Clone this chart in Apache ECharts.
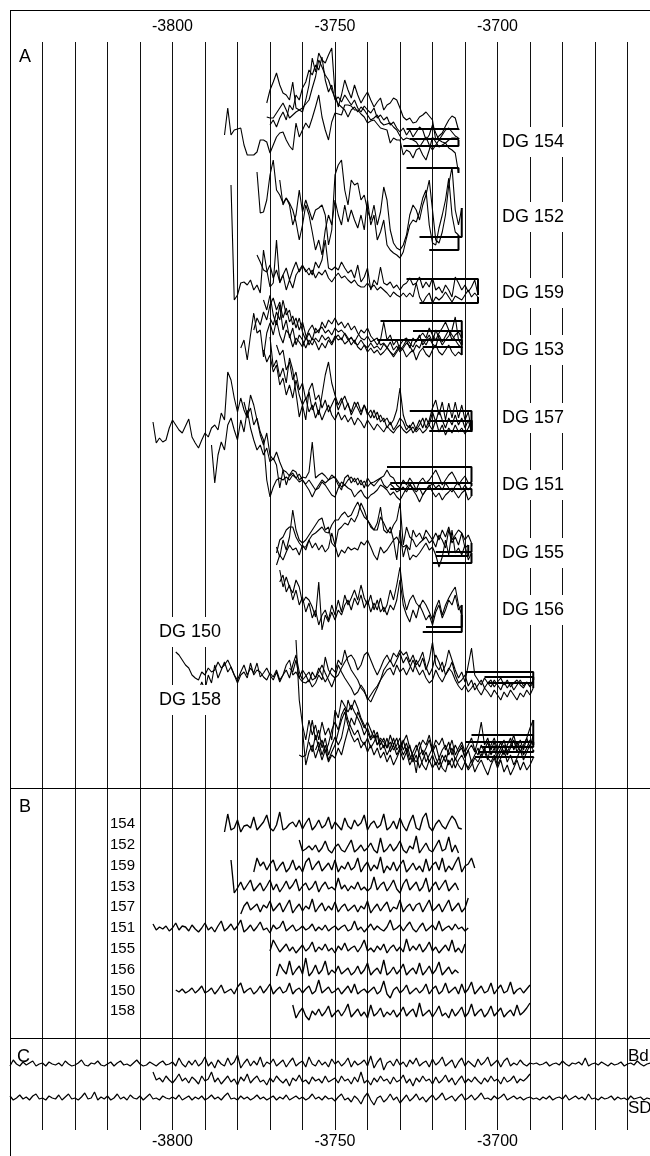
<!DOCTYPE html>
<html><head><meta charset="utf-8">
<script src="https://cdn.jsdelivr.net/npm/echarts@6/dist/echarts.min.js"></script>
<style>html,body{margin:0;padding:0;background:#fff}#c{width:650px;height:1156px}</style>
</head><body><div id="c"></div>
<script>
// ---------- axis ticks ----------
const xTickLabels = [-3800, -3750, -3700];

// ---------- Panel A: raw ring-width curves (plotted offset units, larger = lower) ----------
const dg154Start = [-3784, -3771, -3771, -3770];
const dg154_1 = [135,108,135,130,129,128,145,155,155,155,152,140,140,142,153,145,137,133,132,140,146,150,123,137,130,123,128,118,107,95,117,130,140,122,113,114,115,105,105,106,110,110,114,117,123,121,120,124,128,129,130,143,138,140,140,155,150,152,158,150,148,155,160,150,137,142,147,145,143,140,138,138,140];
const dg154_2 = [103,90,82,73,85,93,95,100,82,108,110,112,100,85,58,72,53,60,63,55,48,93,107,95,80,90,98,85,95,103,97,92,100,107,102,98,110,105,103,98,100,108,117,120,118,123,122,117,115,112,116,120,140,136,133,126,120,116,118,130];
const dg154_3 = [117,118,118,113,108,103,110,118,115,112,110,108,104,100,88,77,60,67,75,80,90,98,104,107,110,117,110,107,112,107,110,115,120,118,115,122,125,124,123,127,130,136,140,138,139,140,142,147,142,137,145,150,145,140,142,143,148,150,153,173];
const dg154_4 = [125,120,127,118,112,120,105,110,95,100,88,82,70,75,65,70,57,80,92,85,100,97,102,95,100,105,100,108,112,106,110,113,108,118,115,120,117,125,122,128,132,128,135,130,137,132,127,130,140,135,125,133,140,135,130,128,132,136,138];
const dg154Sap = [[-3729,146],[-3728,129],[-3728,168],[-3727,139]];

const dg152Start = [-3774, -3767];
const dg152_1 = [172,213,212,200,175,160,190,195,203,198,205,225,215,190,212,200,210,220,210,208,205,215,245,230,175,165,160,190,205,180,185,183,200,195,210,220,205,225,212,187,200,230,243,248,250,245,235,215,205,210,220,205,195,180,210,240,243,232,215,185,167,210,225,208];
const dg152_2 = [180,205,198,203,210,222,240,225,205,215,232,250,240,255,230,215,225,200,215,225,205,222,210,220,228,215,230,200,225,215,240,232,220,245,250,253,255,258,252,238,225,220,222,212,198,190,225,243,245,228,215,200,178,215,232,235];
const dg152Sap = [[-3724,237],[-3721,250]];

const dg159Start = [-3782, -3774];
const dg159_1 = [185,300,295,283,282,285,280,290,285,293,250,270,287,283,240,283,275,290,280,288,275,270,265,272,268,275,262,268,260,240,268,270,267,270,262,268,273,270,278,265,282,277,268,290,280,285,267,283,285,282,288,285,290,285,283,278,285,283,277,288,282,287,278,290,287,293,285,290,297,277,283,290,285,292,287,280,295];
const dg159_2 = [255,262,270,272,265,278,270,282,275,268,280,270,262,272,266,270,275,270,278,272,275,270,278,282,277,273,278,276,280,283,280,285,287,287,283,288,285,290,287,290,293,297,292,295,297,293,297,293,297,283,297,303,297,293,303,297,300,297,292,297,302,296,298,300,295,290,297,293,297];
const dg159Sap = [[-3728,279],[-3724,303]];

const dg153Start = [-3779, -3775, -3772, -3770];
const dg153_1 = [348,340,360,335,313,333,330,357,333,323,335,320,335,343,330,335,347,338,342,347,338,330,325,333,330,327,333,330,335,328,332,330,334,340,338,342,336,330,333,328,336,340,338,345,343,347,352,357,352,347,350,357,353,350,360,352,348,354,357,350,345,352,355,350,345,352,356,352,355];
const dg153_2 = [330,318,325,312,320,305,298,310,302,318,308,322,316,328,318,332,340,333,340,328,333,322,328,320,324,318,325,322,328,323,330,326,333,338,340,336,342,340,345,340,322,340,335,345,340,350,346,340,348,338,342,335,345,340,335,342,330,338,345,340,336,330,317,340,345];
const dg153_3 = [300,310,295,315,325,305,330,320,338,328,345,335,340,348,340,345,338,342,335,340,337,343,336,340,338,344,341,337,343,345,340,345,348,343,348,346,350,344,348,342,350,346,352,348,343,346,352,345,348,340,345,338,344,347,335,342,336,330,340,335,332,338];
const dg153_4 = [318,325,312,320,300,315,310,325,318,330,322,335,345,338,342,350,343,348,340,345,338,335,340,333,338,345,340,347,350,345,352,348,353,350,355,352,348,352,355,350,345,340,338,343,347,340,337,333,338,328,335,340,333,328,322,330,335,340,345,348];
const dg153Sap = [[-3723,347],[-3736,321],[-3726,331],[-3737,340]];

const dg157Start = [-3770, -3768, -3772];
const dg157_1 = [337,367,360,377,368,383,358,370,393,417,405,420,390,383,400,395,408,400,412,405,398,410,402,396,405,412,402,408,415,405,412,418,410,420,415,422,418,425,420,410,388,415,425,428,422,430,425,418,428,420,408,400,415,402,420,403,418,402,418,405,420,412,430];
const dg157_2 = [345,355,350,370,362,380,372,390,383,400,392,410,402,415,395,375,362,383,395,405,398,410,403,415,408,402,412,405,415,410,418,412,422,418,428,422,430,425,418,422,430,425,433,428,420,428,418,425,412,422,410,420,428,418,425,415,425,418,428,420,432];
const dg157_3 = [350,362,355,372,365,385,378,395,385,398,380,395,405,398,412,405,418,410,420,412,405,415,420,412,420,415,422,417,425,418,422,428,420,425,430,424,428,432,426,430,433,428,425,430,433,430,427,432,428,433,430,425,430,420,432,425,435,428,433,425,432,428,434,428,420];
const dg157Sap = [[-3727,411],[-3721,421],[-3721,431]];

const dg151Start = [-3806, -3788, -3778];
const dg151_1 = [422,443,438,442,440,428,420,425,430,433,426,419,437,443,448,440,433,437,428,425,430,413,420,372,380,398,412,398,410,418,395,405,420,435,445,433,455,460,452,462,470,485,475,470,472,480,477,478,472,442,478,475,473,476,480,475,478,485,490,478,475,483,478,485,480,488,478,483,482,480,478,476,470,476,478,485,488,480,485,478,483,490,482,478,483,480,475,470,477,485,480,475,472,478,485,480,476,483,482];
const dg151_2 = [445,483,455,442,450,425,418,430,440,420,432,410,428,440,450,445,455,448,462,458,465,488,470,472,476,473,478,474,480,484,480,485,490,488,482,485,490,495,497,488,482,485,480,477,482,478,485,481,487,483,486,482,478,485,488,484,487,492,490,487,492,485,488,492,488,495,490,487,483,488,485,490,483,488,492,486,482,490,485,490,486];
const dg151_3 = [402,415,408,425,418,432,440,480,497,487,480,478,480,477,480,475,478,482,480,485,490,497,490,485,480,483,480,478,477,482,487,485,488,490,497,493,490,496,499,495,493,490,485,487,490,495,492,497,500,494,488,483,490,495,502,495,490,485,492,497,493,500,495,492,488,493,498,493,490,500,496];
const dg151Sap = [[-3734,467],[-3733,483],[-3733,489]];

const dg155Start = [-3768, -3768, -3768];
const dg155_1 = [547,557,540,550,537,510,530,540,543,540,535,530,525,520,518,530,527,543,547,530,527,523,525,518,522,515,503,510,520,527,530,530,517,523,530,533,525,520,503,545,527,537,540,547,543,540,530,535,540,533,540,530,537,527,540,535,530,533,540,535,543];
const dg155_2 = [553,540,537,530,527,527,537,543,547,547,540,535,533,530,527,532,533,525,520,520,515,512,517,515,508,502,510,517,520,525,530,523,507,530,533,527,540,537,543,547,545,550,530,537,533,540,537,543,540,547,535,540,548,530,543,537,545,533,548,545];
const dg155_3 = [565,555,560,552,545,550,548,555,545,550,540,548,543,550,545,552,548,533,545,557,550,553,547,550,548,550,542,545,540,547,555,560,547,553,550,545,540,560,530,557,545,560,555,557,553,548,543,550,547,555,567,557,540,555,530,553,548,555,545,560,553];
const dg155Sap = [[-3719,552],[-3719,556],[-3720,563]];

const dg156Start = [-3767, -3767];
const dg156_1 = [570,587,577,587,593,580,587,603,597,600,607,617,582,630,615,622,612,620,610,615,605,600,610,598,605,595,608,600,612,603,610,598,612,605,590,600,585,567,595,610,600,595,603,607,600,605,612,620,608,600,615,605,598,592,587,605,615];
const dg156_2 = [582,575,592,585,600,590,605,597,612,603,618,610,625,615,610,620,605,615,600,612,595,605,598,590,600,585,598,605,595,610,600,612,607,615,605,610,600,580,605,615,622,610,618,605,612,620,615,625,612,605,618,610,600,605,595,610,605];
const dg156Sap = [[-3722,627],[-3723,632]];

const dg150Start = [-3799, -3794, -3764];
const dg150_1 = [652,655,660,665,668,675,678,680,672,675,668,672,670,662,668,665,660,667,675,683,675,672,678,663,675,670,672,677,680,673,677,670,680,675,665,660,675,672,678,682,683,680,687,683,675,680,657,670,675,678,675,668,662,657,655,660,670,665,655,652,660,668,675,668,660,655,662,653,657,650,655,652,662,655,665,660,652,667,675,668,655,662,672,665,650,660,670,678,672,682,665,648,675,680,685,678,683,680,687,682,678,685,680,687,683,680,685,688,682,687,683];
const dg150_2 = [697,688,692,682,690,675,683,665,678,670,662,672,667,675,680,672,665,675,668,673,663,677,673,668,675,680,672,682,675,670,678,665,655,672,680,676,672,680,678,672,665,673,680,687,678,665,672,678,683,688,695,692,685,690,700,695,690,686,680,675,670,668,675,665,672,668,675,668,660,668,675,670,678,683,680,670,677,682,675,668,672,680,686,690,685,692,688,683,690,695,688,692,697,690,695,700,692,697,690,695,700,693,697,690,695,688];
const dg150_3 = [668,672,660,678,670,675,682,672,678,668,675,682,676,668,672,660,665,650,662,670,675,680,688,692,698,702,695,688,680,670,665,660,667,660,653,663,657,665,672,660,667,658,670,660,642,665,670,662,675,670,662,675,683,680,675,686,680,690,685,680,688,683,687,680,685,690,682,688,683,690,685,680,686,682,686,680];
const dg150Sap = [[-3710,672],[-3703,683],[-3704,677]];

const dg158Start = [-3762, -3761, -3760, -3758, -3756];
const dg158_1 = [640,700,725,740,720,735,725,740,722,735,728,740,710,718,700,706,712,705,712,718,725,735,728,738,730,745,738,742,748,735,745,738,750,742,735,748,755,773,748,740,745,735,750,740,745,738,750,742,755,745,752,748,758,750,745,752,740,722,745,738,750,742,755,748,740,752,745,735,748,740,750,738,728,720];
const dg158_2 = [755,757,755,738,720,740,730,748,738,755,745,737,745,738,722,700,710,700,708,718,725,732,740,735,745,740,748,738,752,745,755,748,740,752,745,758,750,742,755,748,740,752,745,758,750,745,755,748,760,752,745,757,750,762,755,748,758,750,742,755,748,760,752,745,755,748,740,752,745,755,748,740,745];
const dg158_3 = [730,765,752,745,758,748,760,750,762,755,758,748,755,742,730,718,725,712,720,728,722,730,738,732,745,738,748,742,750,745,738,750,743,755,762,755,768,760,752,762,755,765,758,768,772,760,768,758,765,770,762,768,760,772,765,760,768,775,765,758,768,760,772,765,775,768,760,770,762,770,765,758];
const dg158_4 = [742,752,735,748,740,752,744,730,722,730,715,708,720,728,735,730,740,745,738,748,742,735,750,745,755,748,738,750,745,755,748,760,752,745,755,750,762,755,748,758,765,755,762,750,740,755,748,742,752,745,738,750,755,745,752,760,745,738,750,742,755,745,738,750,742,752,745,738,748,735];
const dg158_5 = [750,742,755,745,760,752,745,732,720,712,725,735,742,738,748,742,752,745,755,748,758,752,762,755,765,758,750,760,752,765,758,762,755,765,770,760,768,762,770,762,755,765,758,768,760,755,762,770,765,758,762,755,748,758,762,755,765,758,750,762,755,765,758,750,760,752,745,750];
const dg158Sap = [[-3708,735],[-3710,742],[-3707,757],[-3705,747],[-3706,752]];

const groupNames = ['DG 154','DG 152','DG 159','DG 153','DG 157','DG 151','DG 155','DG 156','DG 150','DG 158'];

// ---------- Panel B: indexed series ----------
const bNames = ['154','152','159','153','157','151','155','156','150','158'];
const bStart = [-3784, -3761, -3775, -3782, -3779, -3806, -3770, -3768, -3799, -3763];
const b154 = [832,814,830,828,820,832,826,825,828,817,830,826,822,815,828,831,825,812,830,828,824,822,827,820,829,823,818,830,826,820,828,825,817,829,822,826,830,818,826,829,820,826,823,815,830,824,821,828,825,814,830,827,821,829,818,826,831,822,815,828,830,818,813,827,831,824,820,826,829,822,816,820,828,829];
const b152 = [840,851,849,846,850,845,852,848,841,850,853,847,844,850,852,846,840,852,849,845,851,848,843,850,853,838,852,849,844,851,847,841,850,853,846,849,836,853,848,843,850,852,846,840,851,849,837,852,845,853];
const b159 = [872,858,866,862,870,864,860,871,866,862,872,868,860,870,866,872,862,858,870,865,861,871,867,863,870,860,872,866,869,862,870,867,858,872,866,862,871,865,869,857,873,866,870,862,871,865,860,872,868,863,870,866,872,859,871,865,862,870,858,872,866,870,863,857,872,866,864,858,868];
const b153 = [860,893,888,882,890,885,880,891,887,883,891,886,880,890,884,892,887,881,889,885,879,891,886,883,890,887,881,892,886,882,889,887,890,878,889,885,891,886,889,882,890,887,891,888,877,890,885,882,891,886,880,889,893,884,879,890,886,882,891,887,878,892,886,882,890,885,880,891,887,883,890];
const b157 = [914,906,902,910,907,904,912,905,908,901,911,907,903,912,906,900,913,908,904,911,906,909,899,912,907,903,911,906,910,902,912,907,904,911,908,905,912,906,909,901,913,908,904,911,906,902,912,907,909,900,912,907,904,911,905,903,912,906,900,911,908,904,912,906,900,911,907,903,912,908,898];
const b151 = [924,930,927,929,926,931,928,923,930,926,927,931,925,929,932,928,923,930,927,932,926,921,931,928,924,930,926,920,932,929,925,931,927,922,930,928,933,925,929,927,921,931,928,925,931,929,926,930,928,924,931,927,930,925,931,928,926,930,927,925,931,929,921,930,927,932,928,924,930,926,929,931,927,920,930,928,925,931,926,922,929,932,927,923,931,928,925,930,921,931,928,926,930,924,929,927,931,928];
const b155 = [951,940,946,952,948,944,951,947,953,949,945,951,948,942,952,947,950,944,951,948,953,946,950,943,951,948,946,952,947,940,951,948,952,946,950,944,953,948,945,951,947,952,939,951,946,950,944,952,948,942,951,947,953,949,945,951,940,952,948,953,944];
const b156 = [976,964,970,974,961,975,970,966,974,958,976,972,965,974,970,961,975,970,973,966,974,971,968,975,972,966,974,970,963,975,971,968,974,960,975,972,967,974,970,964,975,971,968,974,963,975,971,966,974,970,962,975,971,967,974,970,973];
const b150 = [990,992,989,993,991,988,993,990,986,993,991,988,994,990,985,993,991,989,994,987,983,993,990,988,994,991,986,993,989,984,994,990,987,993,991,983,994,990,988,993,989,986,994,991,980,993,990,987,993,991,988,994,990,986,993,984,994,991,989,993,990,987,994,991,981,994,998,990,987,993,990,985,994,991,988,993,990,984,994,989,986,994,991,983,993,990,987,994,984,993,989,982,994,990,986,993,991,983,994,989,985,993,991,982,994,990,988,993,989,985];
const b158 = [1005,1018,1012,1008,1016,1020,1011,1015,1009,1016,1012,1006,1017,1013,1010,1016,1011,1004,1017,1013,1009,1016,1012,1018,1005,1016,1013,1008,1017,1012,1015,1010,1017,1013,1007,1016,1012,1009,1017,1003,1016,1013,1010,1017,1012,1006,1016,1013,1018,1009,1016,1012,1007,1017,1013,1004,1016,1012,1009,1017,1013,1006,1016,1012,1008,1017,1013,1010,1016,1005,1015,1012,1008,1003];

// ---------- Panel C: chronologies ----------
const cBdStart = -3850, cSdStart = -3850, cMidStart = -3806;
const cBd = [1066,1060,1064,1066,1062,1065,1063,1061,1066,1064,1063,1066,1062,1064,1065,1063,1066,1061,1064,1066,1065,1063,1060,1065,1066,1063,1064,1061,1065,1066,1064,1062,1066,1063,1061,1065,1064,1066,1063,1060,1064,1066,1065,1062,1064,1066,1063,1061,1065,1064,
 1062,1066,1058,1064,1067,1061,1065,1060,1066,1063,1057,1066,1062,1068,1060,1064,1066,1058,1065,1062,1055,1068,1063,1059,1066,1061,1065,1057,1067,1062,1064,1059,1066,1063,1060,1067,1062,1058,1066,1063,1061,1067,1057,1064,1066,1060,1065,1062,1067,1059,1064,1061,1066,1063,1058,1067,1061,1065,1063,1060,1066,1056,1068,1062,1058,1070,1063,1061,1066,1059,1065,1062,1067,1060,1064,1058,1066,1063,1061,1067,1059,1065,1062,1057,1066,1063,1060,1068,1062,1058,1066,1061,1064,1067,1059,1065,1062,1057,1066,1063,1060,1067,1061,1058,1066,1063,1065,1060,1064,1066,
 1063,1064,1063,1065,1064,1062,1066,1064,1063,1065,1061,1064,1066,1063,1064,1062,1065,1058,1066,1064,1063,1065,1062,1064,1066,1063,1065,1064,1062,1066,1064,1063,1065,1061,1064,1066,1064,1063];
const cSd = [1096,1100,1098,1095,1099,1097,1100,1096,1094,1099,1098,1100,1096,1098,1099,1095,1100,1097,1094,1099,1098,1100,1097,1093,1099,1098,1092,1100,1097,1099,1096,1100,1098,1094,1099,1097,1100,1095,1098,1099,1096,1100,1097,1094,1099,1098,1100,1096,1098,1099,
 1097,1099,1095,1100,1098,1096,1100,1097,1099,1096,1100,1098,1095,1099,1097,1100,1096,1093,1099,1098,1100,1096,1099,1097,1100,1098,1095,1099,1097,1100,1098,1096,1100,1097,1099,1095,1100,1098,1096,1099,1097,1100,1098,1094,1099,1097,1100,1096,1099,1098,1101,1097,1094,1100,1098,1102,1096,1099,1104,1097,1093,1100,1105,1098,1096,1102,1099,1094,1100,1097,1103,1099,1095,1101,1098,1094,1100,1097,1102,1098,1095,1100,1097,1093,1100,1098,1096,1101,1097,1094,1100,1098,1095,1100,1097,1093,1099,1098,1100,1096,1099,1097,1094,1100,1098,1096,1099,1097,1100,1098,
 1097,1099,1098,1100,1097,1099,1096,1100,1098,1097,1099,1095,1100,1098,1096,1099,1097,1100,1094,1099,1098,1100,1097,1099,1098,1096,1100,1097,1099,1098,1100,1096,1099,1098,1097,1100,1098,1099];
const cMid = [1072,1080,1078,1082,1076,1080,1083,1079,1074,1081,1078,1083,1077,1080,1084,1076,1081,1079,1072,1082,1078,1084,1080,1076,1082,1079,1085,1077,1081,1074,1083,1079,1076,1082,1080,1085,1078,1082,1076,1080,1083,1079,1086,1078,1081,1075,1082,1080,1084,1077,1081,1079,1083,1076,1082,1080,1078,1083,1076,1081,1079,1084,1077,1082,1072,1083,1080,1085,1078,1082,1076,1081,1079,1084,1077,1082,1080,1075,1083,1079,1086,1078,1082,1076,1081,1079,1084,1077,1083,1080,1075,1082,1078,1085,1080,1076,1083,1079,1082,1077,1081,1084,1078,1082,1076,1081,1079,1084,1077,1082,1080,1076,1083,1079,1081,1078,1074];
const cLabels = ['Bd', 'SD'];

// ---------- build ----------
const FONT = '"Liberation Sans", Arial, Helvetica, sans-serif';
const series = [];
function toPts(start, vals) { return vals.map((v, i) => [start + i, v]); }
function addLine(data, w) {
  series.push({ type: 'line', xAxisIndex: 0, yAxisIndex: 0, data: data, showSymbol: false, symbol: 'none',
    silent: true, animation: false, lineStyle: { color: '#000', width: w }, z: 3 });
}
function addGroup(starts, curves, saps) {
  curves.forEach((vals, k) => {
    addLine(toPts(starts[k], vals), 1.1);
    const end = starts[k] + vals.length - 1;
    const s = saps[k];
    addLine([[s[0], s[1]], [end, s[1]], [end, vals[vals.length - 1]]], 2);
  });
}
addGroup(dg154Start, [dg154_1, dg154_2, dg154_3, dg154_4], dg154Sap);
addGroup(dg152Start, [dg152_1, dg152_2], dg152Sap);
addGroup(dg159Start, [dg159_1, dg159_2], dg159Sap);
addGroup(dg153Start, [dg153_1, dg153_2, dg153_3, dg153_4], dg153Sap);
addGroup(dg157Start, [dg157_1, dg157_2, dg157_3], dg157Sap);
addGroup(dg151Start, [dg151_1, dg151_2, dg151_3], dg151Sap);
addGroup(dg155Start, [dg155_1, dg155_2, dg155_3], dg155Sap);
addGroup(dg156Start, [dg156_1, dg156_2], dg156Sap);
addGroup(dg150Start, [dg150_1, dg150_2, dg150_3], dg150Sap);
addGroup(dg158Start, [dg158_1, dg158_2, dg158_3, dg158_4, dg158_5], dg158Sap);

[b154, b152, b159, b153, b157, b151, b155, b156, b150, b158].forEach((vals, k) => addLine(toPts(bStart[k], vals), 1.35));
addLine(toPts(cBdStart, cBd), 1.2);
addLine(toPts(cMidStart, cMid), 1.2);
addLine(toPts(cSdStart, cSd), 1.2);

// ---------- layout-only decorations ----------
const groupLabelPos = [[533,142],[533,217],[533,293],[533,350],[533,418],[533,485],[533,553],[533,610],[190,632],[190,700]];
const graphic = [
  { type: 'line', shape: { x1: 10.5, y1: 10, x2: 10.5, y2: 1156 }, style: { stroke: '#000', lineWidth: 1 }, z: 50 },
  { type: 'line', shape: { x1: 10, y1: 10.5, x2: 650, y2: 10.5 }, style: { stroke: '#000', lineWidth: 1 }, z: 50 },
  { type: 'line', shape: { x1: 10, y1: 788.5, x2: 650, y2: 788.5 }, style: { stroke: '#000', lineWidth: 1 }, z: 50 },
  { type: 'line', shape: { x1: 10, y1: 1038.5, x2: 650, y2: 1038.5 }, style: { stroke: '#000', lineWidth: 1 }, z: 50 },
  { type: 'text', x: 19, y: 57, style: { text: 'A', fontSize: 18, fontFamily: FONT, fill: '#000', align: 'left', verticalAlign: 'middle' }, z: 60 },
  { type: 'text', x: 19, y: 807, style: { text: 'B', fontSize: 18, fontFamily: FONT, fill: '#000', align: 'left', verticalAlign: 'middle' }, z: 60 },
  { type: 'text', x: 17, y: 1057, style: { text: 'C', fontSize: 18, fontFamily: FONT, fill: '#000', align: 'left', verticalAlign: 'middle' }, z: 60 },
  { type: 'text', x: 628, y: 1056, style: { text: cLabels[0], fontSize: 17, fontFamily: FONT, fill: '#000', align: 'left', verticalAlign: 'middle' }, z: 60 },
  { type: 'text', x: 628, y: 1108, style: { text: cLabels[1], fontSize: 17, fontFamily: FONT, fill: '#000', align: 'left', verticalAlign: 'middle' }, z: 60 }
];
groupNames.forEach((t, k) => graphic.push({ type: 'text', x: groupLabelPos[k][0], y: groupLabelPos[k][1],
  style: { text: t, fontSize: 18, fontFamily: FONT, fill: '#000', align: 'center', verticalAlign: 'middle', backgroundColor: '#fff', padding: [6, 3] }, z: 60 }));
bNames.forEach((t, k) => graphic.push({ type: 'text', x: 110, y: 824 + k * 20.8,
  style: { text: t, fontSize: 15, fontFamily: FONT, fill: '#000', align: 'left', verticalAlign: 'middle' }, z: 60 }));

const labelFmt = v => (xTickLabels.indexOf(v) >= 0 ? String(v) : '');
const chart = echarts.init(document.getElementById('c'), null, { renderer: 'canvas' });
chart.setOption({
  animation: false,
  backgroundColor: '#fff',
  grid: { left: 10, top: 42, width: 650, height: 1088, containLabel: false, outerBoundsMode: 'none' },
  xAxis: [
    { type: 'value', position: 'top', min: -3850, max: -3650, interval: 10,
      axisLine: { show: false }, axisTick: { show: false },
      axisLabel: { interval: 0, margin: 7, formatter: labelFmt, fontSize: 16, fontFamily: FONT, color: '#000' },
      splitLine: { show: true, lineStyle: { color: '#111', width: 1 } } },
    { type: 'value', position: 'bottom', min: -3850, max: -3650, interval: 10,
      axisLine: { show: false }, axisTick: { show: false },
      axisLabel: { interval: 0, margin: 4, formatter: labelFmt, fontSize: 16, fontFamily: FONT, color: '#000' },
      splitLine: { show: false } }
  ],
  yAxis: [{ type: 'value', inverse: true, min: 42, max: 1130, show: false, splitLine: { show: false } }],
  graphic: graphic,
  series: series
});
</script></body></html>
